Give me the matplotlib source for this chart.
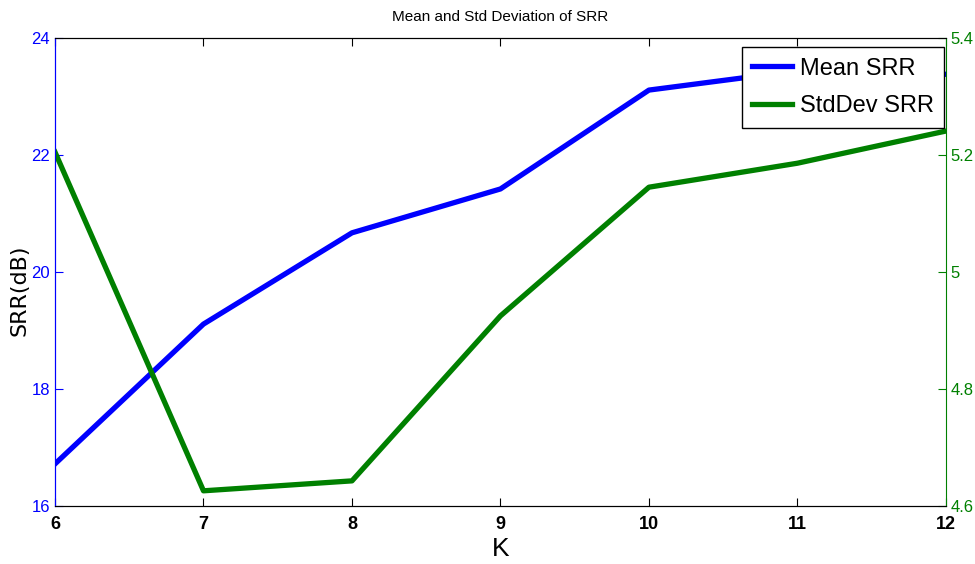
import matplotlib
matplotlib.use('Agg')
import matplotlib.pyplot as plt

plt.rcParams['font.family'] = ['Liberation Sans', 'DejaVu Sans']

k = [6, 7, 8, 9, 10, 11, 12]
mean_srr = [16.72, 19.11, 20.67, 21.42, 23.11, 23.44, 23.38]
std_srr = [5.205, 4.626, 4.643, 4.925, 5.145, 5.186, 5.241]

fig = plt.figure(figsize=(9.75, 5.64), dpi=100)
ax = fig.add_axes([0.0564, 0.1028, 0.9138, 0.8298])
ax2 = ax.twinx()

l1, = ax.plot(k, mean_srr, color=(0, 0, 1), lw=3.8, label='Mean SRR')
l2, = ax2.plot(k, std_srr, color=(0, 0.5, 0), lw=3.8, label='StdDev SRR')

ax.set_xlim(6, 12)
ax.set_ylim(16, 24)
ax2.set_ylim(4.6, 5.4)
ax.set_xticks(k)
ax.set_yticks([16, 18, 20, 22, 24])
ax2.set_yticks([4.6, 4.8, 5.0, 5.2, 5.4])
ax2.set_yticklabels(['4.6', '4.8', '5', '5.2', '5.4'])

ax.tick_params(axis='x', direction='in', top=True, labelsize=13, length=6, pad=7)
ax.tick_params(axis='y', direction='in', labelsize=12, colors='blue', length=6)
ax2.tick_params(axis='y', direction='in', labelsize=12, colors='green', length=6)
for lab in ax.get_xticklabels():
    lab.set_fontweight('bold')

ax.spines['left'].set_color('blue')
ax2.spines['left'].set_color('blue')
ax2.spines['right'].set_color('green')
ax.spines['right'].set_visible(False)

ax.set_xlabel('K', fontsize=19, labelpad=3)
ax.set_ylabel('SRR(dB)', fontsize=16, family='DejaVu Sans')
ax.yaxis.set_label_coords(-0.029, 0.46)
ax.set_title('Mean and Std Deviation of SRR', fontsize=11, pad=12)

leg = ax2.legend([l1, l2], ['Mean SRR', 'StdDev SRR'], loc='upper right',
                 bbox_to_anchor=(0.998, 0.981), fontsize=17, fancybox=False,
                 edgecolor='black', framealpha=1, borderaxespad=0,
                 handlelength=1.7, labelspacing=0.65, borderpad=0.45,
                 handletextpad=0.3)
leg.get_frame().set_linewidth(1.0)

fig.savefig('out.png', dpi=100)
